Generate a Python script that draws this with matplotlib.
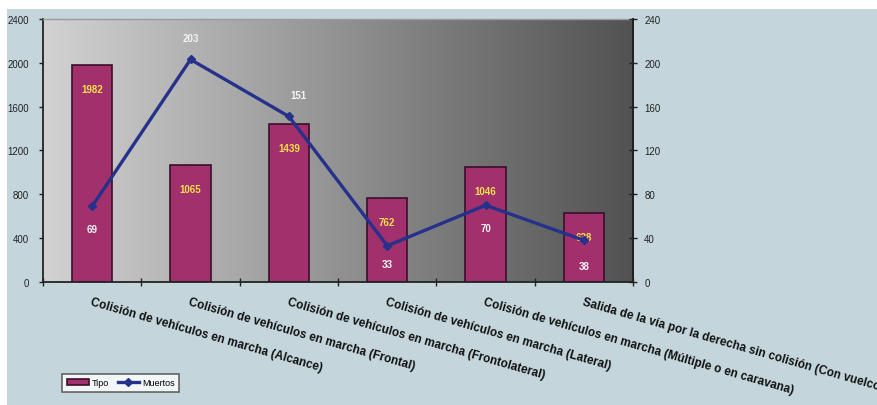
import matplotlib.pyplot as plt
import numpy as np
from matplotlib.patches import Rectangle

categorias = [
    "Colisión de vehículos en marcha (Alcance)",
    "Colisión de vehículos en marcha (Frontal)",
    "Colisión de vehículos en marcha (Frontolateral)",
    "Colisión de vehículos en marcha (Lateral)",
    "Colisión de vehículos en marcha (Múltiple o en caravana)",
    "Salida de la vía por la derecha sin colisión (Con vuelco)",
]
tipo = [1982, 1065, 1439, 762, 1046, 628]
muertos = [69, 203, 151, 33, 70, 38]
ticks_izq = [0, 400, 800, 1200, 1600, 2000, 2400]
ticks_der = [0, 40, 80, 120, 160, 200, 240]

plt.rcParams["font.family"] = ["Liberation Sans", "DejaVu Sans"]

fig = plt.figure(figsize=(8.77, 4.06), dpi=100)
fig.patch.set_facecolor("#c4d6dc")
# white border strips along the top and left edges
fig.patches.append(Rectangle((0, 0.975), 1, 0.025, transform=fig.transFigure,
                             facecolor="white", edgecolor="none", zorder=0))
fig.patches.append(Rectangle((0, 0), 0.008, 1, transform=fig.transFigure,
                             facecolor="white", edgecolor="none", zorder=0))

ax = fig.add_axes([0.049, 0.303, 0.673, 0.648])
ax.set_zorder(1)

# grey gradient behind the plot area
grad = np.linspace(0, 1, 256).reshape(1, -1)
ax.imshow(grad, cmap=plt.matplotlib.colors.LinearSegmentedColormap.from_list(
    "fondo", ["#d2d2d2", "#a8a8a8", "#7c7c7c", "#525252"]),
    extent=[0, 1, 0, 1], transform=ax.transAxes, aspect="auto", zorder=0)

x = np.arange(len(categorias))
bars = ax.bar(x, tipo, width=0.41, color="#a2306c", edgecolor="#3a0f2a",
              linewidth=1.2, zorder=2)
for xi, v in zip(x, tipo):
    ax.annotate(str(v), (xi, v), xytext=(0, -24), textcoords="offset pixels",
                ha="center", va="center", fontsize=7, fontweight="bold",
                color="#f4e24a", zorder=5)

ax.set_xlim(-0.5, len(categorias) - 0.5)
ax.set_ylim(0, 2400)
ax.set_yticks(ticks_izq)
ax.set_yticklabels([str(t) for t in ticks_izq])
ax.tick_params(axis="y", labelsize=7, length=3, width=1, colors="#222222", pad=7)

ax.set_xticks(x)
ax.set_xticklabels(categorias, fontsize=8.5, fontweight="bold", color="#111111")
ax.tick_params(axis="x", which="major", length=0, pad=10)
for lab in ax.get_xticklabels():
    lab.set_rotation(-16)
    lab.set_ha("left")
    lab.set_va("top")
    lab.set_rotation_mode("anchor")
ax.set_xticks(np.arange(-0.5, len(categorias), 1.0), minor=True)
ax.tick_params(axis="x", which="minor", length=6, width=1, direction="inout",
               color="#222222")

ax.spines["top"].set_color("#9a9a9a")
ax.spines["top"].set_linewidth(1.0)
for s in ["left", "bottom", "right"]:
    ax.spines[s].set_color("#222222")
    ax.spines[s].set_linewidth(1.3)

ax2 = ax.twinx()
ax2.set_ylim(0, 240)
ax2.set_yticks(ticks_der)
ax2.set_yticklabels([str(t) for t in ticks_der])
ax2.tick_params(axis="y", labelsize=7, length=6, width=1, direction="inout",
                colors="#222222", pad=5)
for s in ["top", "left", "bottom"]:
    ax2.spines[s].set_visible(False)
ax2.spines["right"].set_color("#222222")
ax2.spines["right"].set_linewidth(1.3)

line, = ax2.plot(x, muertos, color="#25318a", linewidth=2.4, marker="D",
                 markersize=4.5, zorder=4)
offsets = [(0, -23), (0, 21), (10, 21), (0, -18), (0, -23), (0, -26)]
for xi, v, off in zip(x, muertos, offsets):
    ax2.annotate(str(v), (xi, v), xytext=off, textcoords="offset pixels",
                 ha="center", va="center", fontsize=7, fontweight="bold",
                 color="#f4f4f4", zorder=5)

leg = fig.legend([bars, line], ["Tipo", "Muertos"], loc="lower left",
                 bbox_to_anchor=(0.066, 0.022), ncol=2, fontsize=6.5,
                 frameon=True, fancybox=False, handlelength=2.4,
                 handletextpad=0.3, columnspacing=1.0, borderpad=0.5)
leg.get_frame().set_edgecolor("#444444")
leg.get_frame().set_linewidth(1.2)
leg.get_frame().set_facecolor("white")

fig.savefig("out.png", dpi=100, facecolor=fig.get_facecolor())
